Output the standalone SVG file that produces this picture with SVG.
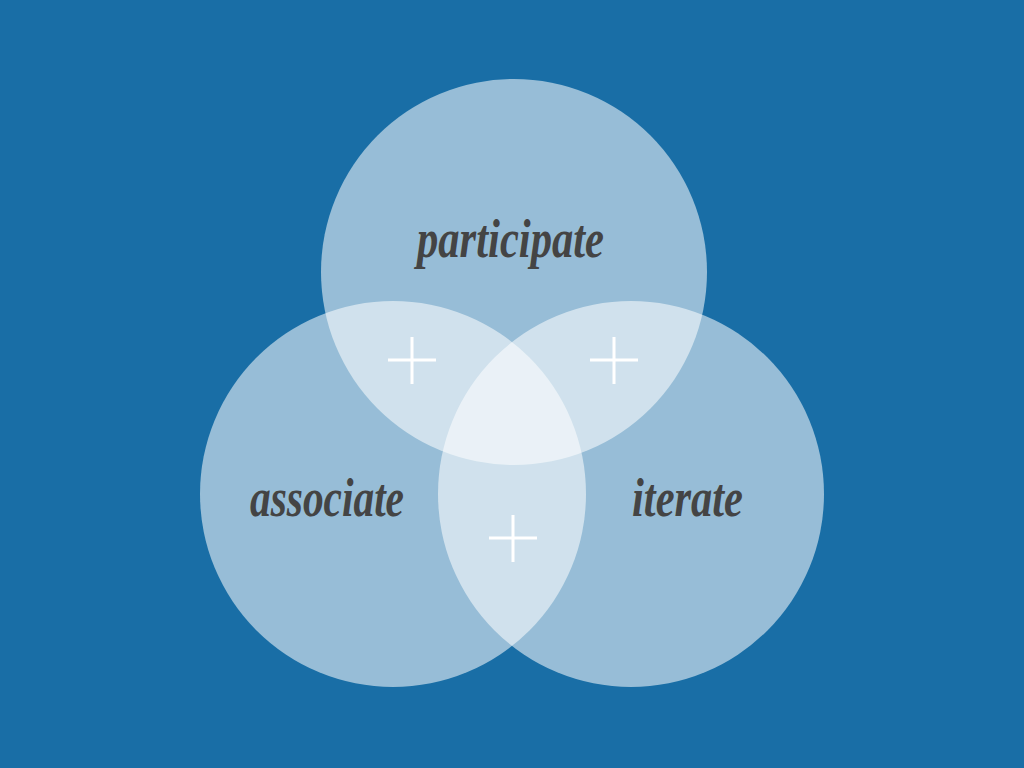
<svg xmlns="http://www.w3.org/2000/svg" width="1024" height="768" viewBox="0 0 1024 768">
<style>
.c{fill:#ffffff;fill-opacity:0.55}
.t{font-family:"Liberation Serif","DejaVu Serif",serif;font-weight:bold;font-style:italic;font-size:54px;fill:#444444}
.p{stroke:#ffffff;stroke-width:3;fill:none}
</style>
<rect width="1024" height="768" fill="#196ea6"/>
<g id="participate">
<circle class="c" cx="514" cy="272" r="193"/>
<text class="t" x="417" y="257" textLength="187" lengthAdjust="spacingAndGlyphs">participate</text>
</g>
<g id="associate">
<circle class="c" cx="393" cy="494" r="193"/>
<text class="t" x="250" y="516" textLength="154" lengthAdjust="spacingAndGlyphs">associate</text>
</g>
<g id="iterate">
<circle class="c" cx="631" cy="494" r="193"/>
<text class="t" x="632" y="516" textLength="111" lengthAdjust="spacingAndGlyphs">iterate</text>
</g>
<g id="plus-left">
<path class="p" d="M388 360H436M412 337V384"/>
</g>
<g id="plus-right">
<path class="p" d="M590 360H638M614 337V384"/>
</g>
<g id="plus-bottom">
<path class="p" d="M489 538H537M513 515V562"/>
</g>
</svg>
